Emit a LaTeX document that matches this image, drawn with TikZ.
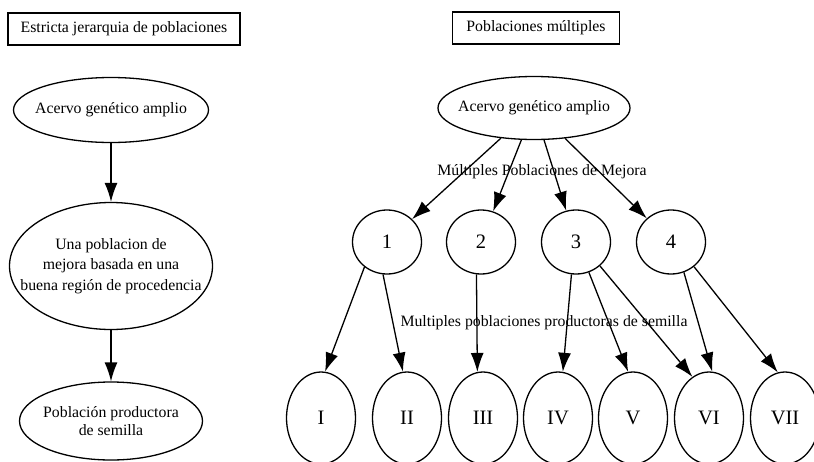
\documentclass[tikz,border=0pt]{standalone}
\usepackage{fontspec}
\setmainfont{Liberation Serif}
\usetikzlibrary{shapes.geometric,arrows.meta}
\tikzset{
  caja/.style={draw,line width=1.1pt,minimum height=32pt,inner sep=0pt},
  elip/.style={draw,ellipse,inner ysep=0pt,line width=1.3pt,align=center},
  pob/.style={draw,ellipse,inner sep=0pt,minimum width=69pt,minimum height=64pt,line width=1.3pt,font=\fontsize{20.5}{24}\selectfont},
  sem/.style={pob,minimum height=92pt},
  flecha/.style={line width=1.3pt,-{Latex[length=19pt,width=13pt]}},
}
\begin{document}
\begin{tikzpicture}[x=1pt,y=-1pt,font=\fontsize{15.8}{18}\selectfont]
\useasboundingbox (0,0) rectangle (814,461);
\node[caja,minimum width=232pt] (tituloA) at (124,29) {Estricta jerarquia de poblaciones};
\node[caja,minimum width=167pt] (tituloB) at (536,28) {Poblaciones múltiples};
\node[elip,inner xsep=-8pt,minimum width=195pt,minimum height=65pt] (acervoA) at (111,110) {Acervo genético amplio};
\node[elip,inner xsep=-19pt,minimum width=203pt,minimum height=127pt,font=\fontsize{15.8}{20.5}\selectfont] (mejora) at (111,266) {Una poblacion de\\mejora basada en una\\buena región de procedencia};
\node[elip,inner xsep=-4pt,minimum width=183pt,minimum height=78pt,font=\fontsize{15.8}{17.5}\selectfont] (productora) at (111,421) {Población productora\\de semilla};
\draw[flecha] (acervoA) -- (mejora);
\draw[flecha] (mejora) -- (productora);
\node[elip,inner xsep=-8pt,minimum width=192pt,minimum height=63pt] (acervoB) at (534,108) {Acervo genético amplio};
\node[pob] (m1) at (387,242) {1};
\node[pob] (m2) at (481,242) {2};
\node[pob] (m3) at (576,242) {3};
\node[pob] (m4) at (671,242) {4};
\node[sem] (sI) at (321,418) {I};
\node[sem] (sII) at (407,418) {II};
\node[sem] (sIII) at (483,418) {III};
\node[sem] (sIV) at (558,418) {IV};
\node[sem] (sV) at (633,418) {V};
\node[sem] (sVI) at (709,418) {VI};
\node[sem] (sVII) at (785,418) {VII};
\draw[flecha] (acervoB) -- (m1);
\draw[flecha] (acervoB) -- (m2);
\draw[flecha] (acervoB) -- (m3);
\draw[flecha] (acervoB) -- (m4);
\draw[flecha] (m1.228) -- (sI.85);
\draw[flecha] (m1.263) -- (sII.95);
\draw[flecha] (m2.262) -- (sIII.97);
\draw[flecha] (m3.262) -- (sIV.84);
\draw[flecha] (m3.293) -- (sV.96);
\draw[flecha] (m3.315) -- (sVI.112);
\draw[flecha] (m4.293) -- (sVI.86);
\draw[flecha] (m4.313) -- (sVII.99);
\node (textoMejora) at (542,172) {Múltiples Poblaciones de Mejora};
\node (textoSemilla) at (544,323) {Multiples poblaciones productoras de semilla};
\end{tikzpicture}
\end{document}
